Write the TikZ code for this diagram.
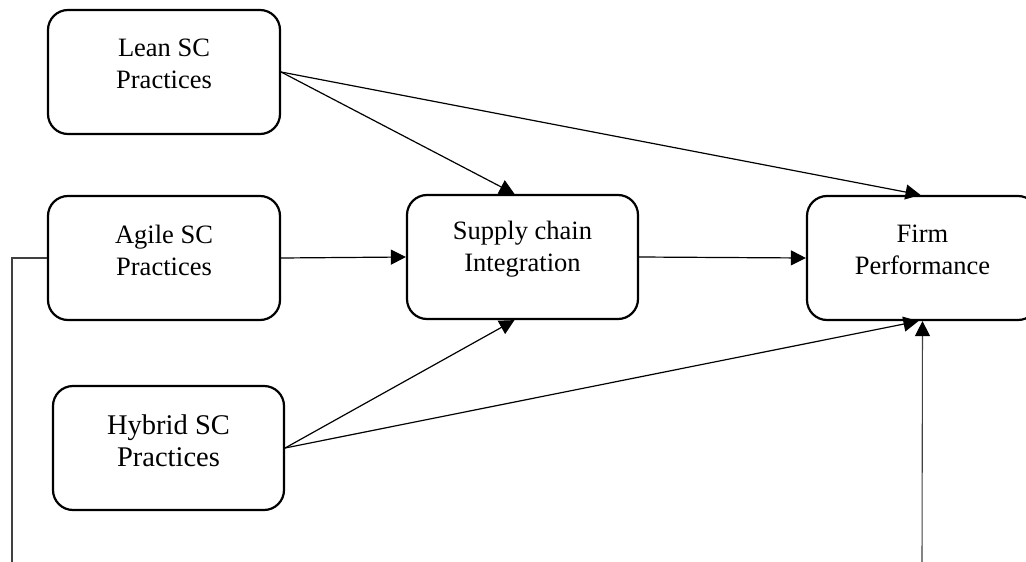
\documentclass[tikz,border=0pt]{standalone}
\usepackage{fontspec}
\setmainfont{Liberation Serif}
\usetikzlibrary{arrows.meta}
\begin{document}
\begin{tikzpicture}[x=1pt,y=-1pt,
  box/.style={draw=black, line width=2.2pt, rounded corners=20pt, minimum width=232pt, minimum height=124pt, inner sep=0pt},
  lbl/.style={align=center, inner sep=0pt, font=\fontsize{26.5}{32}\selectfont},
  conn/.style={line width=1.2pt, -{Triangle[length=15pt,width=15pt]}},
  feed/.style={line width=1.1pt, draw=black!75}
]
\useasboundingbox (0,0) rectangle (1026,562);
\begin{scope}
\clip (0,0) rectangle (1026,562);
\node[box] (lean) at (164,72) {};
\node[box] (agile) at (164,258) {};
\node[box, minimum width=231pt] (sci) at (522.5,257) {};
\node[box, minimum width=231pt] (firm) at (922.5,258) {};
\node[box, minimum width=231pt] (hybrid) at (168.5,448) {};
\end{scope}
\node[lbl] (leant) at ([yshift=8pt]lean.center) {Lean SC\\Practices};
\node[lbl] (agilet) at ([yshift=8pt]agile.center) {Agile SC\\Practices};
\node[lbl] (scit) at ([yshift=8pt]sci.center) {Supply chain\\Integration};
\node[lbl] (firmt) at ([yshift=8pt]firm.center) {Firm\\Performance};
\node[lbl, font=\fontsize{28.5}{32}\selectfont] (hybridt) at ([yshift=7pt]hybrid.center) {Hybrid SC\\Practices};
\coordinate (lb) at (12,566);
\coordinate (rb) at (922,566);
\draw[conn] (lean.east) -- ([xshift=-8pt]sci.north);
\draw[conn] (lean.east) -- ([xshift=-2pt]firm.north);
\draw[conn] (agile.east) -- (sci.west);
\draw[conn] (sci.east) -- (firm.west);
\draw[conn] (hybrid.east) -- ([xshift=-8pt]sci.south);
\draw[conn] (hybrid.east) -- ([xshift=-4pt]firm.south);
\draw[feed] (agile.west) -| (lb);
\draw[feed, -{Triangle[length=15pt,width=15pt,color=black,fill=black]}] (rb) -- (firm.south);
\end{tikzpicture}
\end{document}
